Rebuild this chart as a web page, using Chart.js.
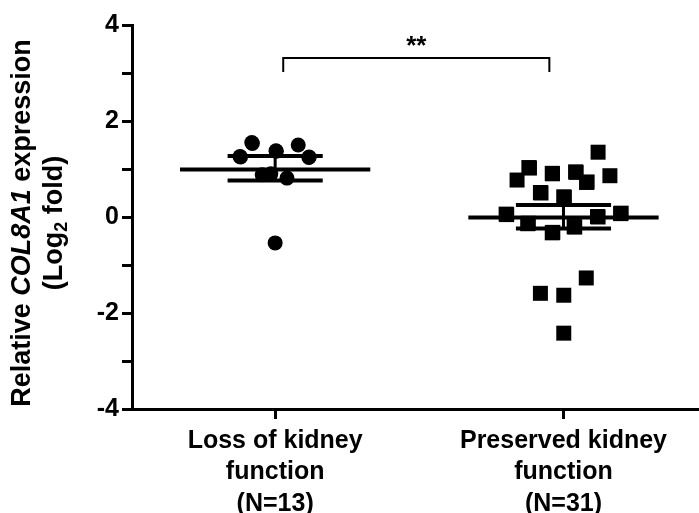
<!DOCTYPE html>
<html>
<head>
<meta charset="utf-8">
<script src="https://cdn.jsdelivr.net/npm/chart.js@4.4.1/dist/chart.umd.min.js"></script>
<style>
  html, body { margin: 0; padding: 0; background: #fff; overflow: hidden; }
  canvas { display: block; }
</style>
</head>
<body>
<canvas id="col8a1" width="699" height="513"></canvas>
<script>
// group labels (x axis, one line per entry)
const groupLabels = [
    ["Loss of kidney", "function", "(N=13)"],
    ["Preserved kidney", "function", "(N=31)"],
];
const groupPos = [1, 2];

// loss of kidney function (circles), x = jitter around group 1
const lossX = [0.919, 1.080, 1.003, 0.878, 1.118, 1.041, 1.000, 0.955, 0.985, 0.921, 1.004, 0.880, 1.117];
const lossY = [1.55, 1.50, 1.38, 1.26, 1.25, 0.81, -0.54, 0.88, 0.90, 1.53, 1.37, 1.25, 1.24];

// preserved kidney function (squares), x = jitter around group 2
const presX = [1.120, 0.880, 0.839, 0.961, 1.042, 1.080, 1.161, 0.920, 1.001, 0.801, 1.200, 1.120,
    0.876, 0.961, 1.039, 1.079, 0.920, 1.001, 1.001,
    0.803, 1.198, 1.118, 0.878, 0.963, 1.037, 1.003, 0.922, 1.044, 0.962, 0.882, 1.082];
const presY = [1.35, 1.03, 0.77, 0.91, 0.94, 0.72, 0.86, 0.51, 0.42, 0.06, 0.08, 0.00,
    -0.14, -0.33, -0.21, -1.27, -1.59, -1.63, -2.42,
    0.05, 0.07, 0.01, -0.13, -0.32, -0.20, 0.41, 0.50, 0.93, 0.90, 1.02, 0.73];

// mean and SEM
const groupMean = [0.99, -0.01];
const semUpper = [1.27, 0.25];
const semLower = [0.76, -0.24];

// significance bracket
const bracketX = [1.028, 1.951];
const bracketY = [3.02, 3.31];
const sigText = "**";

const yTicks = [-4, -3, -2, -1, 0, 1, 2, 3, 4];

const FONT = "'Liberation Sans', Arial, Helvetica, sans-serif";
const meanHalf = 0.33;
const semHalf = 0.165;

function xy(xs, ys) {
    return xs.map((x, i) => ({ x: x, y: ys[i] }));
}

const lossPts = xy(lossX, lossY);
const presPts = xy(presX.map(v => v + 1), presY);

const meanSegs = [];
const semSegs = [];
const stemSegs = [];
groupPos.forEach((g, i) => {
    meanSegs.push({ x: g - meanHalf, y: groupMean[i] }, { x: g + meanHalf, y: groupMean[i] }, { x: g, y: null });
    semSegs.push({ x: g - semHalf, y: semUpper[i] }, { x: g + semHalf, y: semUpper[i] }, { x: g, y: null });
    semSegs.push({ x: g - semHalf, y: semLower[i] }, { x: g + semHalf, y: semLower[i] }, { x: g, y: null });
    stemSegs.push({ x: g, y: semLower[i] }, { x: g, y: semUpper[i] }, { x: g, y: null });
});

const bracket = [
    { x: bracketX[0], y: bracketY[0] },
    { x: bracketX[0], y: bracketY[1] },
    { x: bracketX[1], y: bracketY[1] },
    { x: bracketX[1], y: bracketY[0] },
];

const lineDefaults = {
    type: "line",
    borderColor: "#000",
    pointRadius: 0,
    fill: false,
    spanGaps: false,
    tension: 0,
};

// y title with italic gene name and subscript, plus the ** label
const textPlugin = {
    id: "texts",
    afterDraw(chart) {
        const ctx = chart.ctx;
        const area = chart.chartArea;
        const yMid = (area.top + area.bottom) / 2 + 6;

        const drawRun = (runs, cx) => {
            ctx.save();
            ctx.translate(cx, yMid);
            ctx.rotate(-Math.PI / 2);
            ctx.textBaseline = "middle";
            ctx.fillStyle = "#000";
            let total = 0;
            runs.forEach(r => { ctx.font = r.font; total += ctx.measureText(r.text).width; });
            let pos = -total / 2;
            runs.forEach(r => {
                ctx.font = r.font;
                ctx.textAlign = "left";
                ctx.fillText(r.text, pos, r.dy || 0);
                pos += ctx.measureText(r.text).width;
            });
            ctx.restore();
        };

        drawRun([
            { text: "Relative ", font: `bold 27px ${FONT}` },
            { text: "COL8A1", font: `italic bold 27px ${FONT}` },
            { text: " expression", font: `bold 27px ${FONT}` },
        ], 23);
        drawRun([
            { text: "(Log", font: `bold 27px ${FONT}` },
            { text: "2", font: `bold 18px ${FONT}`, dy: 7 },
            { text: " fold)", font: `bold 27px ${FONT}` },
        ], 55);

        const sx = chart.scales.x.getPixelForValue((bracketX[0] + bracketX[1]) / 2);
        const sy = chart.scales.y.getPixelForValue(bracketY[1]);
        ctx.save();
        ctx.font = `bold 26px ${FONT}`;
        ctx.fillStyle = "#000";
        ctx.textAlign = "center";
        ctx.textBaseline = "alphabetic";
        ctx.fillText(sigText, sx, sy - 4);
        ctx.restore();
    },
};

const ctx = document.getElementById("col8a1").getContext("2d");

const chart = new Chart(ctx, {
    type: "scatter",
    data: {
        datasets: [
            { ...lineDefaults, label: "mean", data: meanSegs, borderWidth: 4 },
            { ...lineDefaults, label: "sem", data: semSegs, borderWidth: 4 },
            { ...lineDefaults, label: "stem", data: stemSegs, borderWidth: 3 },
            { ...lineDefaults, label: "bracket", data: bracket, borderWidth: 2 },
            {
                label: "Loss of kidney function",
                data: lossPts,
                pointStyle: "circle",
                pointRadius: 7.5,
                backgroundColor: "#000",
                borderColor: "#000",
                borderWidth: 0,
            },
            {
                label: "Preserved kidney function",
                data: presPts,
                pointStyle: "rect",
                pointRadius: 10.6,
                backgroundColor: "#000",
                borderColor: "#000",
                borderWidth: 0,
            },
        ],
    },
    options: {
        responsive: false,
        animation: false,
        devicePixelRatio: 1,
        layout: { autoPadding: false, padding: { top: 25, right: 0, left: 0, bottom: 0 } },
        plugins: {
            legend: { display: false },
            tooltip: { enabled: false },
        },
        scales: {
            x: {
                type: "linear",
                min: 0.5035,
                max: 2.47,
                afterBuildTicks: (scale) => {
                    scale.ticks = groupPos.map(v => ({ value: v }));
                },
                afterFit: (scale) => {
                    scale.height = 104;
                    scale.paddingLeft = 0;
                    scale.paddingRight = 0;
                },
                ticks: {
                    autoSkip: false,
                    maxRotation: 0,
                    padding: 6,
                    color: "#000",
                    font: { family: FONT, size: 25, weight: "bold", lineHeight: 1.26 },
                    callback: (value) => {
                        const i = groupPos.indexOf(value);
                        return i >= 0 ? groupLabels[i] : "";
                    },
                },
                grid: {
                    display: true,
                    drawOnChartArea: false,
                    drawTicks: true,
                    tickLength: 10,
                    tickWidth: 3,
                    color: "#000",
                },
                border: { display: true, color: "#000", width: 3 },
            },
            y: {
                min: -4,
                max: 4,
                afterBuildTicks: (scale) => {
                    scale.ticks = yTicks.map(v => ({ value: v }));
                },
                afterFit: (scale) => { scale.width = 132; },
                ticks: {
                    padding: 3,
                    color: "#000",
                    font: { family: FONT, size: 25, weight: "bold" },
                    callback: (value) => (value % 2 === 0 ? String(value) : ""),
                },
                grid: {
                    display: true,
                    drawOnChartArea: false,
                    drawTicks: true,
                    tickLength: 10,
                    tickWidth: 3,
                    color: "#000",
                },
                border: { display: true, color: "#000", width: 3 },
            },
        },
    },
    plugins: [textPlugin],
});
</script>
</body>
</html>
